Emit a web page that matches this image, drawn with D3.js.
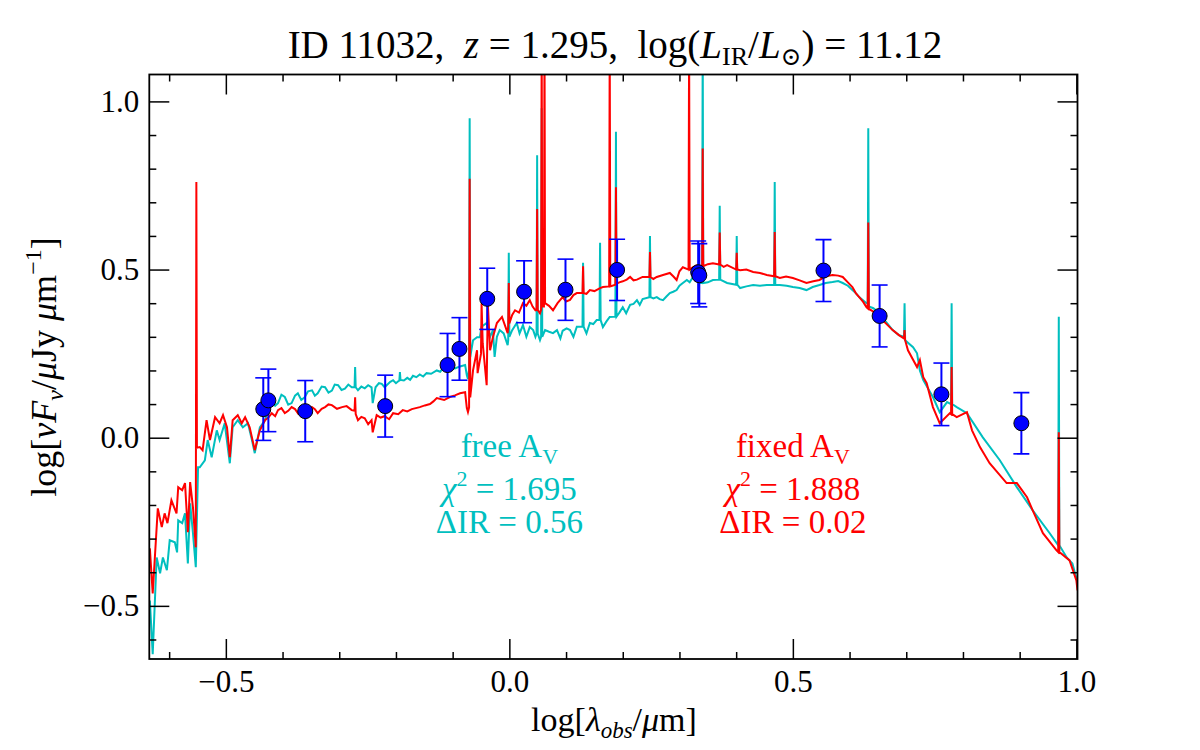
<!DOCTYPE html>
<html>
<head>
<meta charset="utf-8">
<script src="https://cdn.jsdelivr.net/npm/d3@7"></script>
<style>
  body { margin: 0; background: #fff; }
  text { font-family: "Liberation Serif", "DejaVu Serif", serif; white-space: pre; }
</style>
</head>
<body>
<div id="sedChart"></div>
<script>
// photometry: log wavelength, log flux, error
const obsX = [-0.434, -0.425, -0.360, -0.219, -0.109, -0.088, -0.039, 0.026, 0.099, 0.190, 0.333, 0.335, 0.554, 0.653, 0.762, 0.903];
const obsY = [0.085, 0.111, 0.079, 0.094, 0.216, 0.264, 0.413, 0.434, 0.440, 0.499, 0.492, 0.483, 0.497, 0.362, 0.129, 0.043];
const obsErr = [0.093, 0.093, 0.091, 0.092, 0.094, 0.093, 0.091, 0.092, 0.091, 0.091, 0.093, 0.094, 0.092, 0.092, 0.093, 0.091];

// model with free A_V (cyan)
const freeModel = [
  [-0.634,-0.484],[-0.629,-0.644],[-0.622,-0.356],[-0.616,-0.403],[-0.611,-0.356],[-0.604,-0.394],
  [-0.599,-0.305],[-0.590,-0.311],[-0.586,-0.341],[-0.584,-0.246],[-0.577,-0.254],[-0.572,-0.225],
  [-0.567,-0.374],[-0.563,-0.195],[-0.558,-0.284],[-0.553,-0.385],[-0.549,-0.088],[-0.546,-0.088],
  [-0.537,-0.067],[-0.532,-0.007],[-0.525,-0.058],[-0.516,0.022],[-0.511,-0.007],[-0.502,0.043],
  [-0.493,-0.076],[-0.488,0.031],[-0.479,0.052],[-0.470,0.031],[-0.461,0.043],[-0.454,-0.007],
  [-0.449,-0.046],[-0.440,0.031],[-0.431,0.052],[-0.425,0.085],[-0.419,0.112],[-0.413,0.095],[-0.408,0.103],[-0.402,0.128],[-0.396,0.121],
  [-0.390,0.098],[-0.384,0.103],[-0.378,0.125],[-0.373,0.132],[-0.367,0.112],[-0.361,0.120],[-0.355,0.138],[-0.348,0.141],[-0.343,0.125],[-0.338,0.132],[-0.331,0.152],[-0.325,0.150],
  [-0.319,0.134],[-0.313,0.140],[-0.308,0.158],[-0.302,0.156],[-0.296,0.142],[-0.290,0.146],[-0.284,0.158],[-0.278,0.150],
  [-0.273,0.150],[-0.272,0.210],[-0.271,0.150],
  [-0.267,0.141],[-0.261,0.152],[-0.255,0.147],[-0.249,0.156],[-0.243,0.150],[-0.241,0.103],[-0.236,0.150],[-0.230,0.162],[-0.225,0.160],
  [-0.220,0.150],[-0.215,0.158],[-0.210,0.166],[-0.205,0.171],[-0.200,0.162],[-0.196,0.168],
  [-0.194,0.170],[-0.193,0.195],[-0.192,0.172],
  [-0.186,0.170],[-0.180,0.178],[-0.175,0.172],[-0.170,0.184],[-0.164,0.180],[-0.158,0.188],[-0.152,0.182],[-0.146,0.192],[-0.138,0.190],[-0.128,0.200],[-0.122,0.196],[-0.117,0.207],
  [-0.111,0.202],[-0.105,0.208],[-0.096,0.206],[-0.087,0.212],[-0.078,0.216],[-0.075,0.186],[-0.073,0.175],
  [-0.071,0.205],[-0.070,0.950],[-0.069,0.240],
  [-0.064,0.290],[-0.057,0.299],[-0.052,0.299],[-0.049,0.330],[-0.040,0.341],[-0.034,0.300],
  [-0.029,0.320],[-0.026,0.240],[-0.022,0.300],[-0.017,0.320],[-0.010,0.310],[-0.003,0.275],
  [-0.002,0.290],[-0.001,0.550],[0.000,0.300],
  [0.005,0.320],[0.013,0.341],[0.018,0.310],[0.024,0.335],[0.030,0.300],[0.036,0.329],[0.042,0.320],[0.046,0.300],
  [0.048,0.310],[0.049,0.840],[0.050,0.310],
  [0.054,0.290],
  [0.056,0.300],[0.057,0.980],[0.058,0.300],
  [0.063,0.320],[0.070,0.315],[0.077,0.311],[0.084,0.320],[0.090,0.295],[0.094,0.318],[0.101,0.325],[0.107,0.320],
  [0.113,0.300],[0.119,0.330],
  [0.129,0.330],[0.130,0.520],[0.131,0.330],
  [0.136,0.310],[0.142,0.341],[0.148,0.338],[0.154,0.350],
  [0.159,0.350],[0.160,0.580],[0.161,0.350],
  [0.165,0.329],[0.171,0.345],[0.177,0.359],
  [0.187,0.360],[0.188,0.910],[0.189,0.360],
  [0.194,0.372],[0.200,0.388],[0.206,0.370],[0.213,0.395],[0.219,0.398],[0.225,0.409],[0.230,0.395],[0.235,0.412],
  [0.247,0.418],[0.248,0.600],[0.249,0.418],
  [0.254,0.414],[0.260,0.418],[0.265,0.412],[0.271,0.409],[0.277,0.420],[0.283,0.430],[0.289,0.434],[0.295,0.439],[0.300,0.452],[0.306,0.460],[0.313,0.469],
  [0.318,0.462],[0.324,0.478],[0.331,0.470],[0.336,0.460],
  [0.340,0.460],[0.341,1.200],[0.342,0.460],
  [0.350,0.462],[0.359,0.469],
  [0.370,0.470],[0.371,0.690],[0.372,0.470],
  [0.384,0.460],
  [0.400,0.455],[0.401,0.600],[0.402,0.455],
  [0.407,0.445],[0.418,0.450],[0.430,0.454],[0.442,0.452],[0.454,0.454],
  [0.467,0.454],[0.468,0.760],[0.469,0.454],
  [0.477,0.454],[0.489,0.452],[0.500,0.448],[0.512,0.445],[0.524,0.439],[0.535,0.448],[0.547,0.454],[0.558,0.460],[0.570,0.463],[0.580,0.466],[0.588,0.460],
  [0.597,0.452],[0.605,0.439],[0.611,0.430],[0.617,0.418],[0.630,0.400],
  [0.632,0.400],[0.633,0.920],[0.634,0.390],
  [0.642,0.385],[0.652,0.371],[0.664,0.345],[0.676,0.320],[0.687,0.305],
  [0.696,0.300],[0.697,0.400],[0.698,0.290],
  [0.712,0.269],[0.719,0.251],[0.724,0.200],[0.730,0.171],[0.747,0.121],[0.759,0.076],[0.772,0.106],
  [0.779,0.100],[0.780,0.400],[0.781,0.100],
  [0.789,0.091],[0.807,0.073],[0.835,0.001],[0.865,-0.067],[0.895,-0.147],[0.923,-0.216],[0.953,-0.284],
  [0.968,-0.320],[0.969,0.360],[0.970,-0.320],
  [0.983,-0.356],[0.993,-0.374],[1.002,-0.430]
];

// model with fixed A_V (red)
const fixedModel = [
  [-0.634,-0.329],[-0.629,-0.463],[-0.620,-0.210],[-0.613,-0.266],[-0.608,-0.225],[-0.603,-0.254],
  [-0.596,-0.186],[-0.587,-0.225],[-0.584,-0.147],[-0.577,-0.156],[-0.572,-0.135],[-0.567,-0.281],
  [-0.563,-0.132],[-0.558,-0.207],[-0.553,-0.326],
  [-0.552,0.760],[-0.551,-0.030],
  [-0.546,-0.028],[-0.541,-0.037],[-0.534,0.052],[-0.528,-0.007],[-0.519,0.061],[-0.511,0.043],
  [-0.505,0.067],[-0.498,0.031],[-0.493,-0.058],[-0.488,0.052],[-0.479,0.067],[-0.472,0.043],
  [-0.466,0.061],[-0.458,0.031],[-0.449,-0.037],[-0.440,0.022],[-0.431,0.052],[-0.425,0.060],[-0.419,0.073],
  [-0.413,0.064],[-0.408,0.082],[-0.402,0.088],[-0.396,0.073],[-0.390,0.080],[-0.384,0.091],[-0.378,0.085],[-0.373,0.073],[-0.367,0.090],[-0.361,0.082],
  [-0.354,0.076],[-0.348,0.091],[-0.343,0.085],[-0.338,0.073],[-0.331,0.086],[-0.325,0.091],[-0.319,0.099],[-0.313,0.097],[-0.304,0.086],[-0.295,0.091],
  [-0.287,0.094],[-0.278,0.082],
  [-0.273,0.080],[-0.272,0.120],[-0.271,0.070],
  [-0.267,0.052],[-0.261,0.062],[-0.255,0.058],[-0.249,0.040],[-0.243,0.052],[-0.241,0.016],[-0.234,0.067],[-0.227,0.060],[-0.220,0.064],
  [-0.212,0.055],[-0.205,0.073],[-0.196,0.070],[-0.188,0.082],[-0.180,0.078],[-0.172,0.085],[-0.165,0.088],[-0.158,0.091],[-0.149,0.096],
  [-0.140,0.100],[-0.134,0.108],[-0.128,0.118],
  [-0.115,0.112],[-0.105,0.121],[-0.096,0.126],[-0.087,0.132],[-0.078,0.135],[-0.075,0.088],[-0.073,0.076],
  [-0.071,0.090],[-0.070,0.770],[-0.069,0.120],
  [-0.064,0.201],[-0.057,0.260],[-0.056,0.192],[-0.050,0.250],[-0.049,0.400],[-0.047,0.281],
  [-0.040,0.156],[-0.038,0.400],[-0.034,0.260],[-0.029,0.299],[-0.022,0.341],[-0.013,0.359],[-0.003,0.311],
  [-0.002,0.330],[-0.001,0.460],[0.000,0.340],
  [0.005,0.365],[0.010,0.379],[0.017,0.372],[0.024,0.400],[0.030,0.392],[0.036,0.409],[0.041,0.390],[0.046,0.379],
  [0.048,0.380],[0.049,0.680],[0.050,0.380],
  [0.054,0.370],[0.056,0.380],[0.057,1.200],[0.058,0.390],[0.061,0.390],[0.062,1.200],[0.063,0.400],
  [0.070,0.392],[0.077,0.379],[0.085,0.400],[0.094,0.418],[0.100,0.405],[0.107,0.410],[0.113,0.424],[0.119,0.430],
  [0.129,0.430],[0.130,0.510],[0.131,0.430],
  [0.136,0.428],[0.142,0.439],[0.150,0.436],[0.160,0.445],[0.165,0.448],
  [0.176,0.450],[0.177,1.200],[0.178,0.450],
  [0.187,0.455],[0.188,0.745],[0.189,0.458],
  [0.194,0.462],[0.200,0.465],[0.207,0.470],[0.213,0.478],[0.219,0.468],[0.225,0.470],[0.235,0.478],
  [0.247,0.478],[0.248,0.552],[0.249,0.478],
  [0.254,0.472],[0.260,0.478],[0.271,0.484],[0.283,0.490],[0.289,0.480],[0.295,0.469],[0.300,0.495],[0.306,0.507],
  [0.316,0.500],[0.317,1.200],[0.318,0.500],
  [0.324,0.507],[0.331,0.513],
  [0.340,0.510],[0.341,0.860],[0.342,0.510],
  [0.350,0.516],[0.359,0.519],
  [0.370,0.515],[0.371,0.610],[0.372,0.515],
  [0.378,0.508],[0.384,0.513],
  [0.400,0.500],[0.401,0.550],[0.402,0.500],
  [0.407,0.498],[0.418,0.500],[0.430,0.493],[0.442,0.490],[0.454,0.484],
  [0.467,0.480],[0.468,0.612],[0.469,0.480],
  [0.477,0.475],[0.488,0.479],[0.500,0.475],[0.512,0.468],[0.524,0.460],[0.536,0.465],[0.547,0.469],[0.558,0.480],[0.570,0.484],[0.580,0.482],[0.588,0.478],
  [0.597,0.462],[0.605,0.448],[0.611,0.430],[0.617,0.418],[0.624,0.404],[0.630,0.388],
  [0.632,0.385],[0.633,0.640],[0.634,0.383],
  [0.642,0.375],[0.652,0.359],[0.664,0.340],[0.676,0.320],[0.687,0.305],
  [0.696,0.295],[0.697,0.320],[0.698,0.290],
  [0.703,0.260],[0.719,0.210],[0.724,0.231],[0.730,0.180],[0.736,0.162],[0.747,0.091],[0.759,0.043],[0.777,0.073],
  [0.779,0.070],[0.780,0.210],[0.781,0.070],
  [0.789,0.061],[0.807,0.076],[0.816,0.022],[0.830,-0.028],[0.847,-0.076],[0.877,-0.135],[0.895,-0.135],
  [0.913,-0.177],[0.923,-0.216],[0.941,-0.284],[0.965,-0.335],
  [0.968,-0.340],[0.969,0.016],[0.970,-0.340],
  [0.988,-0.365],[1.000,-0.424],[1.002,-0.454]
];

const xMajor = [-0.5, 0.0, 0.5, 1.0];
const yMajor = [-0.5, 0.0, 0.5, 1.0];
const xMinor = [-0.6, -0.4, -0.3, -0.2, -0.1, 0.1, 0.2, 0.3, 0.4, 0.6, 0.7, 0.8, 0.9];
const yMinor = [-0.6, -0.4, -0.3, -0.2, -0.1, 0.1, 0.2, 0.3, 0.4, 0.6, 0.7, 0.8, 0.9];

const width = 1200, height = 750;
const m = {left: 149.3, right: 1077.5, top: 74.5, bottom: 659};

const svg = d3.select("#sedChart").append("svg")
  .attr("width", width).attr("height", height);

const x = d3.scaleLinear().domain([-0.635, 1.002]).range([m.left, m.right]);
const y = d3.scaleLinear().domain([-0.658, 1.08]).range([m.bottom, m.top]);

svg.append("defs").append("clipPath").attr("id", "plotClip")
  .append("rect").attr("x", m.left).attr("y", m.top)
  .attr("width", m.right - m.left).attr("height", m.bottom - m.top);

const plot = svg.append("g").attr("clip-path", "url(#plotClip)");

const line = d3.line().x(d => x(d[0])).y(d => y(d[1]));

plot.append("path").datum(freeModel)
  .attr("d", line).attr("fill", "none")
  .attr("stroke", "#00bfbf").attr("stroke-width", 2);

plot.append("path").datum(fixedModel)
  .attr("d", line).attr("fill", "none")
  .attr("stroke", "#ff0000").attr("stroke-width", 2);

// error bars + points
const obs = obsX.map((v, i) => ({x: v, y: obsY[i], e: obsErr[i]}));
const eb = plot.selectAll(".eb").data(obs).enter().append("g");
eb.append("line")
  .attr("x1", d => x(d.x)).attr("x2", d => x(d.x))
  .attr("y1", d => y(d.y - d.e)).attr("y2", d => y(d.y + d.e))
  .attr("stroke", "#0000ff").attr("stroke-width", 2);
[-1, 1].forEach(s => {
  eb.append("line")
    .attr("x1", d => x(d.x) - 8).attr("x2", d => x(d.x) + 8)
    .attr("y1", d => y(d.y + s * d.e)).attr("y2", d => y(d.y + s * d.e))
    .attr("stroke", "#0000ff").attr("stroke-width", 1.6);
});
plot.selectAll(".pt").data(obs).enter().append("circle")
  .attr("cx", d => x(d.x)).attr("cy", d => y(d.y)).attr("r", 7.5)
  .attr("fill", "#0000ff").attr("stroke", "#000").attr("stroke-width", 1);

// axes, ticks inward on all sides
const fmt = d3.format(".1f");
function styleAxis(g) {
  g.select(".domain").remove();
  g.selectAll(".tick line").attr("stroke", "#000").attr("stroke-width", 1.5);
  g.selectAll(".tick text").attr("fill", "#000")
    .style("font-family", "'Liberation Serif', serif").style("font-size", "31px");
}
svg.append("g").attr("transform", "translate(0," + m.bottom + ")")
  .call(d3.axisBottom(x).tickValues(xMajor).tickFormat(fmt).tickSize(-20).tickPadding(11)).call(styleAxis);
svg.append("g").attr("transform", "translate(0," + m.bottom + ")")
  .call(d3.axisBottom(x).tickValues(xMinor).tickFormat("").tickSize(-7)).call(styleAxis);
svg.append("g").attr("transform", "translate(0," + m.top + ")")
  .call(d3.axisTop(x).tickValues(xMajor).tickFormat("").tickSize(-20)).call(styleAxis);
svg.append("g").attr("transform", "translate(0," + m.top + ")")
  .call(d3.axisTop(x).tickValues(xMinor).tickFormat("").tickSize(-7)).call(styleAxis);
svg.append("g").attr("transform", "translate(" + m.left + ",0)")
  .call(d3.axisLeft(y).tickValues(yMajor).tickFormat(fmt).tickSize(-20).tickPadding(10)).call(styleAxis);
svg.append("g").attr("transform", "translate(" + m.left + ",0)")
  .call(d3.axisLeft(y).tickValues(yMinor).tickFormat("").tickSize(-7)).call(styleAxis);
svg.append("g").attr("transform", "translate(" + m.right + ",0)")
  .call(d3.axisRight(y).tickValues(yMajor).tickFormat("").tickSize(-20)).call(styleAxis);
svg.append("g").attr("transform", "translate(" + m.right + ",0)")
  .call(d3.axisRight(y).tickValues(yMinor).tickFormat("").tickSize(-7)).call(styleAxis);

svg.append("rect").attr("x", m.left).attr("y", m.top)
  .attr("width", m.right - m.left).attr("height", m.bottom - m.top)
  .attr("fill", "none").attr("stroke", "#000").attr("stroke-width", 1.8);

// helper to write text made of pieces
function rich(el, parts) {
  parts.forEach(p => {
    const t = el.append("tspan").text(p.t);
    if (p.i) t.style("font-style", "italic");
    if (p.s) t.style("font-size", p.s);
    if (p.dy) t.attr("dy", p.dy);
  });
  return el;
}

rich(svg.append("text").attr("x", 615).attr("y", 58).attr("text-anchor", "middle")
  .style("font-size", "39px"), [
  {t: "ID 11032,  "}, {t: "z", i: 1}, {t: " = 1.295,  log("}, {t: "L", i: 1},
  {t: "IR", s: "26px", dy: 7}, {t: "/", dy: -7}, {t: "L", i: 1}, {t: "⊙", s: "25px", dy: 7},
  {t: ") = 11.12", dy: -7}
]);

rich(svg.append("text").attr("x", 614).attr("y", 731).attr("text-anchor", "middle")
  .style("font-size", "34px"), [
  {t: "log["}, {t: "λ", i: 1}, {t: "obs", i: 1, s: "23px", dy: 7}, {t: "/", dy: -7},
  {t: "μ", i: 1}, {t: "m]"}
]);

rich(svg.append("text").attr("transform", "translate(56,367) rotate(-90)")
  .attr("text-anchor", "middle").style("font-size", "36px"), [
  {t: "log["}, {t: "νF", i: 1}, {t: "ν", i: 1, s: "24px", dy: 7}, {t: "/", dy: -7},
  {t: "μ", i: 1}, {t: "Jy "}, {t: "μ", i: 1}, {t: "m"}, {t: "−1", s: "24px", dy: -15},
  {t: "]", dy: 15}
]);

// fit annotations
const notes = [
  {cx: 0.0, col: "#00bfbf", lab: "free", chi: "1.695", dir: "0.56"},
  {cx: 0.5, col: "#ff0000", lab: "fixed", chi: "1.888", dir: "0.02"}
];
notes.forEach(n => {
  const g = svg.append("g").attr("fill", n.col).style("font-size", "33px").attr("text-anchor", "middle");
  rich(g.append("text").attr("x", x(n.cx)).attr("y", 457), [
    {t: n.lab + " A"}, {t: "V", s: "22px", dy: 7}
  ]);
  rich(g.append("text").attr("x", x(n.cx)).attr("y", 500), [
    {t: "χ", i: 1}, {t: "2", s: "22px", dy: -14}, {t: " = " + n.chi, dy: 14}
  ]);
  g.append("text").attr("x", x(n.cx)).attr("y", 533).text("ΔIR = " + n.dir);
});
</script>
</body>
</html>
